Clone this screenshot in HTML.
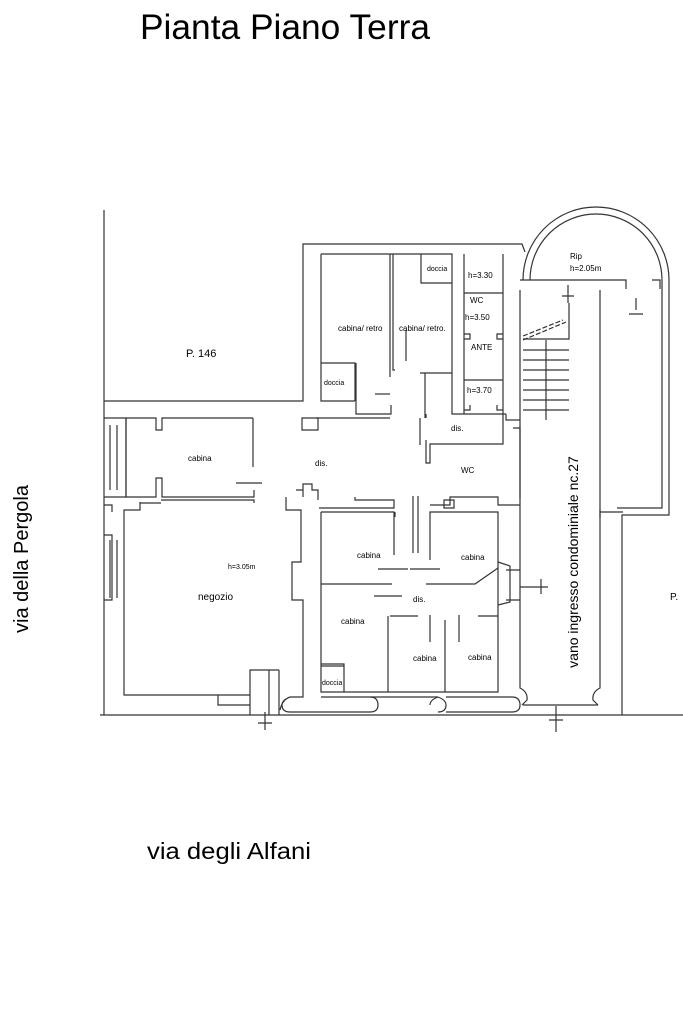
<!DOCTYPE html>
<html><head><meta charset="utf-8"><style>
html,body{margin:0;padding:0;background:#fff;width:683px;height:1024px;overflow:hidden}
svg{display:block}
text{font-family:"Liberation Sans",Arial,sans-serif;fill:#000}
</style></head><body>
<svg width="683" height="1024" viewBox="0 0 683 1024" xmlns="http://www.w3.org/2000/svg">
<text x="140" y="39" font-size="35" textLength="290" lengthAdjust="spacingAndGlyphs">Pianta Piano Terra</text>
<text x="147" y="859" font-size="23" textLength="164" lengthAdjust="spacingAndGlyphs">via degli Alfani</text>
<text transform="translate(28,559) rotate(-90)" font-size="20" text-anchor="middle" textLength="148" lengthAdjust="spacingAndGlyphs">via della Pergola</text>

<g fill="none" stroke="#333" stroke-width="1.2">
<path d="M104 210 V715"/>
<path d="M100 715 H683"/>
<path d="M104 401 H303 V244 H522 L525 252"/>
<path d="M321 254 H452 V414 H506"/>
<path d="M321 254 V401 H355"/>
<path d="M321 363 H355 V401"/>
<path d="M356 363 V414 H391 V405"/>
<path d="M390 254 V377 M393 254 V370 H395"/>
<path d="M375 394 H390"/>
<path d="M421 254 V283 H452"/>
<path d="M420 373 H452 M425 373 V418"/>
<path d="M406 361 V330"/>
<path d="M464 254 V414 M503 254 V414"/>
<path d="M464 293 H503 M464 380 H503"/>
<path d="M464 334 H470 V339 H464 M503 334 H497 V339 H503"/>
<path d="M464 410 H470 V405 M503 410 H497 V405"/>
<path d="M126 418 H156 V430 H162 V418 H253 M253 418 V467"/>
<path d="M302 418 H318 V430 H302 Z"/>
<path d="M316 418 H390"/>
<path d="M420 418 V445 M426 418 V414"/>
<path d="M426 440 V463 H430 V444 H503 V414 M506 414 V420 H520"/>
<path d="M513 428 H520 V498"/>
<path d="M104 418 H126 V497 H104"/>
<path d="M110 425 V490 M117 425 V490"/>
<path d="M104 505 H112 V512 M104 535 H112 V600 H104 M110 540 V598 M117 540 V598"/>
<path d="M126 418 V497"/>
<path d="M126 497 H156 V478 H162 V497 H254 V490"/>
<path d="M161 500 H254 V503"/>
<path d="M236 483 H262"/>
<path d="M140 502 V510 H124 V695 H218 M124 510 H126"/>
<path d="M161 503 H140"/>
<path d="M286 497 V510 H301 V562 H292 V600 H303 V692"/>
<path d="M296 490 H303 V497 M303 490 V484 H312 V490 H318 V500"/>
<path d="M218 695 V705 H250 V695 M218 695 H250 M250 695 V670 H269 V715 M250 670 V715 M279 670 V715 M269 670 H279"/>
<path d="M280 710 Q282 700 290 697 H303 V692"/>
<path d="M290 697 Q282 700 282 705 Q282 712 290 712 H370 Q378 712 378 705 Q378 697 370 697 H321"/>
<path d="M370 697 H438 M438 697 Q446 700 446 705 Q446 712 438 712 M446 697 H512 Q520 697 520 705 Q520 712 512 712 H446"/>
<path d="M438 697 Q430 700 430 705"/>
<path d="M321 512 H394 V555 M395 512 V517 M321 512 V692 H498 V512 H430 V560"/>
<path d="M319 508 H394 V500 H355 V497"/>
<path d="M413 496 V553 M418 496 V553"/>
<path d="M430 505 H450 V497 H498 V505 H520"/>
<path d="M444 500 H454 V508 H444 Z"/>
<path d="M321 584 H392 M426 584 H475 L498 568"/>
<path d="M378 569 H408 M410 569 H440"/>
<path d="M374 596 H402"/>
<path d="M390 616 H418 M388 616 V692 M445 620 V692 M478 616 H498"/>
<path d="M430 615 V642 M459 615 V642"/>
<path d="M321 666 H344 V692 M344 666 V664 H321"/>
<path d="M498 562 L510 566 V602 L498 605"/>
<path d="M506 570 H520 M506 600 H520"/>
<path d="M520 290 V688 Q528 692 527 700 L522 705 M600 290 V688 Q592 692 593 700 L598 705"/>
<path d="M523 705 H598"/>
<path d="M520 280 H626 V289 M652 280 H660 V289"/>
<path d="M523 339 H569 V303 M568 285 V303 M562 296 H574"/>
<path d="M523 350 H569 M523 360 H569 M523 370 H569 M523 380 H569 M523 390 H569 M523 400 H569 M523 410 H569 M546 340 V420"/>
<path d="M523 340 L566 322 M523 336 L563 320" stroke-dasharray="5 2"/>
<path d="M523 280 A73 73 0 0 1 669 280 V515 H622 V715"/>
<path d="M530 280 A66 66 0 0 1 662 280 V508 H617 M600 512 H623"/>
<path d="M600 510 V518 M636 298 V310 M629 314 H643"/>
<path d="M265 712 V730 M258 723 H272"/>
<path d="M556 706 V732 M549 720 H563"/>
<path d="M520 587 H548 M541 579 V594"/>
</g>
<g fill="#000">
<text x="570" y="259" font-size="8">Rip</text>
<text x="570" y="271" font-size="8">h=2.05m</text>
<text x="186" y="357" font-size="11" fill="#333">P. 146</text>
<text x="338" y="331" font-size="8">cabina/ retro</text>
<text x="399" y="331" font-size="8">cabina/ retro.</text>
<text x="427" y="271" font-size="7">doccia</text>
<text x="324" y="385" font-size="7">doccia</text>
<text x="468" y="278" font-size="8">h=3.30</text>
<text x="470" y="303" font-size="8">WC</text>
<text x="465" y="320" font-size="8">h=3.50</text>
<text x="471" y="350" font-size="8">ANTE</text>
<text x="467" y="393" font-size="8">h=3.70</text>
<text x="451" y="431" font-size="8">dis.</text>
<text x="188" y="461" font-size="8">cabina</text>
<text x="315" y="466" font-size="8">dis.</text>
<text x="461" y="473" font-size="8">WC</text>
<text x="357" y="558" font-size="8">cabina</text>
<text x="461" y="560" font-size="8">cabina</text>
<text x="228" y="569" font-size="7">h=3.05m</text>
<text x="198" y="600" font-size="10">negozio</text>
<text x="413" y="602" font-size="8">dis.</text>
<text x="341" y="624" font-size="8">cabina</text>
<text x="413" y="661" font-size="8">cabina</text>
<text x="468" y="660" font-size="8">cabina</text>
<text x="322" y="685" font-size="7">doccia</text>
<text x="670" y="600" font-size="10">P.</text>
<text transform="translate(578,562) rotate(-90)" font-size="14" text-anchor="middle">vano ingresso condominiale nc.27</text>
</g>
</svg>
</body></html>
